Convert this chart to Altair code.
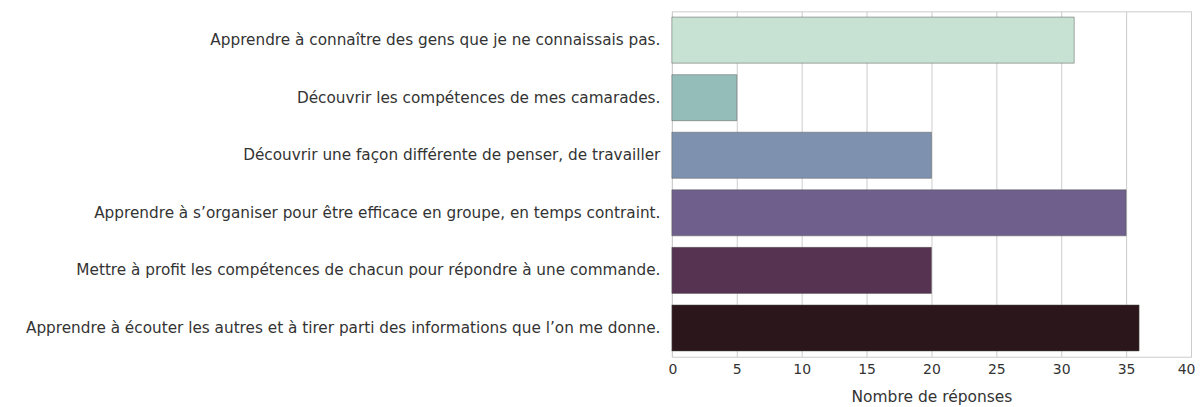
import altair as alt
import pandas as pd

categories = [
    "Apprendre à connaître des gens que je ne connaissais pas.",
    "Découvrir les compétences de mes camarades.",
    "Découvrir une façon différente de penser, de travailler",
    "Apprendre à s’organiser pour être efficace en groupe, en temps contraint.",
    "Mettre à profit les compétences de chacun pour répondre à une commande.",
    "Apprendre à écouter les autres et à tirer parti des informations que l’on me donne.",
]
values = [31, 5, 20, 35, 20, 36]
colors = ["#c7e2d3", "#94bcb9", "#7e92b0", "#6e5f8c", "#573352", "#2a161b"]

df = pd.DataFrame({"item": categories, "n": values})

chart = alt.Chart(df).mark_bar(stroke="#555555", strokeWidth=0.8, strokeOpacity=0.6).encode(
    y=alt.Y("item:N", sort=categories, title=None,
            scale=alt.Scale(paddingInner=0.2, paddingOuter=0.1),
            axis=alt.Axis(labelLimit=1000, labelFontSize=15.3, labelColor="#333333",
                          labelFont="DejaVu Sans", ticks=False, domain=False,
                          grid=False, labelPadding=12)),
    x=alt.X("n:Q", title="Nombre de réponses",
            scale=alt.Scale(domain=[0, 40]),
            axis=alt.Axis(values=list(range(0, 41, 5)), labelFontSize=14,
                          labelColor="#333333", labelFont="DejaVu Sans",
                          titleFont="DejaVu Sans", titleFontSize=15.5,
                          titleFontWeight="normal", titleColor="#333333",
                          ticks=False, domain=False, grid=True, gridColor="#cccccc",
                          labelFlush=True, labelFlushOffset=4,
                          labelPadding=6, titlePadding=13)),
    color=alt.Color("item:N", sort=categories, scale=alt.Scale(domain=categories, range=colors), legend=None),
).properties(
    width=520, height=346,
    padding={"left": 17, "top": 3, "right": 0, "bottom": 0},
).configure_view(stroke="#cccccc", strokeWidth=1)

chart.save("out.html", embed_options={"renderer": "svg", "actions": False})
